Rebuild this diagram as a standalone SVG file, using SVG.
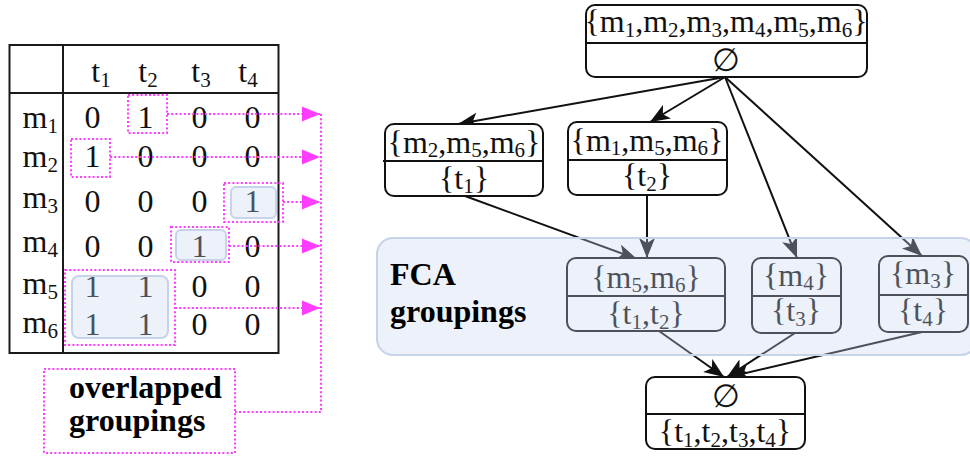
<svg xmlns="http://www.w3.org/2000/svg" width="970" height="457" viewBox="0 0 970 457">
  <defs>
    <style>
      .serif { font-family: "Liberation Serif", "Times New Roman", serif; font-size: 32px; fill: #111; }
      .lat { font-family: "Liberation Serif", "Times New Roman", serif; font-size: 32px; fill: #111; text-anchor: middle; }
      .mid { text-anchor: middle; }
      .end { text-anchor: end; }
      .s { font-size: 21px; }
      .bold { font-family: "Liberation Serif", "Times New Roman", serif; font-size: 32px; font-weight: bold; fill: #000; }
      .grid { fill: none; stroke: #1a1a1a; stroke-width: 2; }
      .box { fill: #fff; stroke: #111; stroke-width: 2; }
      .div { stroke: #111; stroke-width: 2; }
      .edge { fill: none; stroke: #111; stroke-width: 2; marker-end: url(#arrow); }
      .dot { fill: none; stroke: #ff3cff; stroke-width: 2; stroke-dasharray: 2 2.2; }
      .tint { fill: rgb(196, 212, 240); fill-opacity: 0.33; stroke: #c6d3e8; stroke-width: 2; }
    </style>
    <marker id="arrow" viewBox="0 -8 20 16" refX="20" refY="0" markerWidth="20" markerHeight="16" markerUnits="userSpaceOnUse" orient="auto">
      <path d="M20,0 L0,-8 L5,0 L0,8 Z" fill="#111"/>
    </marker>
    <marker id="pink" viewBox="0 -8 18 16" refX="18" refY="0" markerWidth="18" markerHeight="16" markerUnits="userSpaceOnUse" orient="auto">
      <path d="M18,0 L0,-7.5 L0,7.5 Z" fill="#ff3cff"/>
    </marker>
  </defs>

  <!-- ===== incidence table ===== -->
  <g id="table">
    <rect class="grid" x="9.5" y="45" width="269" height="308"/>
    <line class="grid" x1="63" y1="45" x2="63" y2="353"/>
    <line class="grid" x1="9.5" y1="93" x2="278.5" y2="93"/>

    <!-- column heads -->
    <text class="serif mid" x="101" y="82">t<tspan class="s" dy="5">1</tspan></text>
    <text class="serif mid" x="148" y="82">t<tspan class="s" dy="5">2</tspan></text>
    <text class="serif mid" x="201" y="82">t<tspan class="s" dy="5">3</tspan></text>
    <text class="serif mid" x="248" y="82">t<tspan class="s" dy="5">4</tspan></text>

    <!-- row heads -->
    <text class="serif end" x="58" y="128">m<tspan class="s" dy="5">1</tspan></text>
    <text class="serif end" x="58" y="167">m<tspan class="s" dy="5">2</tspan></text>
    <text class="serif end" x="58" y="208">m<tspan class="s" dy="5">3</tspan></text>
    <text class="serif end" x="58" y="252">m<tspan class="s" dy="5">4</tspan></text>
    <text class="serif end" x="58" y="294">m<tspan class="s" dy="5">5</tspan></text>
    <text class="serif end" x="58" y="333">m<tspan class="s" dy="5">6</tspan></text>

    <!-- cells -->
    <g class="serif mid">
      <text x="92.5" y="128">0</text><text x="145.5" y="128">1</text><text x="199.5" y="128">0</text><text x="252.5" y="128">0</text>
      <text x="92.5" y="167">1</text><text x="145.5" y="167">0</text><text x="199.5" y="167">0</text><text x="252.5" y="167">0</text>
      <text x="92.5" y="212">0</text><text x="145.5" y="212">0</text><text x="199.5" y="212">0</text><text x="252.5" y="212">1</text>
      <text x="92.5" y="257">0</text><text x="145.5" y="257">0</text><text x="199.5" y="257">1</text><text x="252.5" y="257">0</text>
      <text x="92.5" y="297">1</text><text x="145.5" y="297">1</text><text x="199.5" y="297">0</text><text x="252.5" y="297">0</text>
      <text x="92.5" y="335">1</text><text x="145.5" y="335">1</text><text x="199.5" y="335">0</text><text x="252.5" y="335">0</text>
    </g>

    <!-- shaded concept blocks -->
    <rect class="tint" x="231" y="187" width="45" height="31" rx="5"/>
    <rect class="tint" x="176" y="230" width="50" height="30" rx="5"/>
    <rect class="tint" x="72" y="276" width="96" height="62" rx="7"/>
  </g>

  <!-- ===== overlapped groupings (dotted) ===== -->
  <g id="overlap">
    <rect class="dot" x="128" y="95" width="39" height="38"/>
    <rect class="dot" x="71" y="139" width="39" height="38"/>
    <rect class="dot" x="224" y="183" width="59" height="39"/>
    <rect class="dot" x="171" y="227" width="58" height="35"/>
    <rect class="dot" x="65" y="270" width="110" height="75"/>

    <line class="dot" x1="167" y1="114" x2="320" y2="114" marker-end="url(#pink)"/>
    <line class="dot" x1="110" y1="157" x2="320" y2="157" marker-end="url(#pink)"/>
    <line class="dot" x1="283" y1="202" x2="320" y2="202" marker-end="url(#pink)"/>
    <line class="dot" x1="229" y1="246" x2="320" y2="246" marker-end="url(#pink)"/>
    <line class="dot" x1="175" y1="308" x2="320" y2="308" marker-end="url(#pink)"/>
    <polyline class="dot" points="321,114 321,412 235,412"/>

    <rect class="dot" x="44" y="369" width="191" height="84"/>
    <text class="bold" x="69" y="398">overlapped</text>
    <text class="bold" x="69" y="431">groupings</text>
  </g>

  <!-- ===== connectors ===== -->
  <g id="edges">
    <line class="edge" x1="725" y1="77" x2="458" y2="124"/>
    <line class="edge" x1="725" y1="77" x2="650" y2="122"/>
    <line class="edge" x1="725" y1="77" x2="797" y2="258"/>
    <line class="edge" x1="725" y1="77" x2="922" y2="256"/>
    <line class="edge" x1="465" y1="196" x2="637" y2="259"/>
    <line class="edge" x1="647" y1="195" x2="647" y2="258"/>
    <line class="edge" x1="659" y1="331" x2="724" y2="377"/>
    <line class="edge" x1="795" y1="333" x2="727" y2="377"/>
    <line class="edge" x1="922" y1="332" x2="729" y2="377"/>
  </g>

  <!-- ===== lattice nodes ===== -->
  <g id="top">
    <rect class="box" x="586" y="5" width="281" height="72" rx="9"/>
    <line class="div" x1="586" y1="43" x2="867" y2="43"/>
    <text class="lat" x="726" y="32">{m<tspan class="s" dy="5">1</tspan><tspan dy="-5">,m</tspan><tspan class="s" dy="5">2</tspan><tspan dy="-5">,m</tspan><tspan class="s" dy="5">3</tspan><tspan dy="-5">,m</tspan><tspan class="s" dy="5">4</tspan><tspan dy="-5">,m</tspan><tspan class="s" dy="5">5</tspan><tspan dy="-5">,m</tspan><tspan class="s" dy="5">6</tspan><tspan dy="-5">}</tspan></text>
    <text class="lat" x="726" y="71">∅</text>
  </g>

  <g id="c-t1">
    <rect class="box" x="385" y="124" width="158" height="72" rx="9"/>
    <line class="div" x1="383" y1="161" x2="543" y2="161"/>
    <text class="lat" x="464" y="153">{m<tspan class="s" dy="4">2</tspan><tspan dy="-4">,m</tspan><tspan class="s" dy="4">5</tspan><tspan dy="-4">,m</tspan><tspan class="s" dy="4">6</tspan><tspan dy="-4">}</tspan></text>
    <text class="lat" x="464" y="189">{t<tspan class="s" dy="4">1</tspan><tspan dy="-4">}</tspan></text>
  </g>

  <g id="c-t2">
    <rect class="box" x="568" y="122" width="159" height="73" rx="9"/>
    <line class="div" x1="568" y1="160" x2="727" y2="160"/>
    <text class="lat" x="647" y="151">{m<tspan class="s" dy="4">1</tspan><tspan dy="-4">,m</tspan><tspan class="s" dy="4">5</tspan><tspan dy="-4">,m</tspan><tspan class="s" dy="4">6</tspan><tspan dy="-4">}</tspan></text>
    <text class="lat" x="647" y="186">{t<tspan class="s" dy="5">2</tspan><tspan dy="-5">}</tspan></text>
  </g>

  <g id="c-t1t2">
    <rect class="box" x="567" y="258" width="158" height="73" rx="9"/>
    <line class="div" x1="567" y1="296" x2="725" y2="296"/>
    <text class="lat" x="646" y="288">{m<tspan class="s" dy="4">5</tspan><tspan dy="-4">,m</tspan><tspan class="s" dy="4">6</tspan><tspan dy="-4">}</tspan></text>
    <text class="lat" x="646" y="324">{t<tspan class="s" dy="5">1</tspan><tspan dy="-5">,t</tspan><tspan class="s" dy="5">2</tspan><tspan dy="-5">}</tspan></text>
  </g>

  <g id="c-t3">
    <rect class="box" x="752" y="258" width="89" height="75" rx="9"/>
    <line class="div" x1="752" y1="296" x2="841" y2="296"/>
    <text class="lat" x="796" y="286">{m<tspan class="s" dy="4">4</tspan><tspan dy="-4">}</tspan></text>
    <text class="lat" x="796" y="321">{t<tspan class="s" dy="5">3</tspan><tspan dy="-5">}</tspan></text>
  </g>

  <g id="c-t4">
    <rect class="box" x="879" y="256" width="89" height="76" rx="9"/>
    <line class="div" x1="879" y1="295" x2="968" y2="295"/>
    <text class="lat" x="923" y="284">{m<tspan class="s" dy="4">3</tspan><tspan dy="-4">}</tspan></text>
    <text class="lat" x="923" y="321">{t<tspan class="s" dy="5">4</tspan><tspan dy="-5">}</tspan></text>
  </g>

  <g id="bottom">
    <rect class="box" x="646" y="377" width="159" height="72" rx="9"/>
    <line class="div" x1="646" y1="414" x2="805" y2="414"/>
    <text class="lat" x="726" y="407">∅</text>
    <text class="lat" x="725" y="442">{t<tspan class="s" dy="5">1</tspan><tspan dy="-5">,t</tspan><tspan class="s" dy="5">2</tspan><tspan dy="-5">,t</tspan><tspan class="s" dy="5">3</tspan><tspan dy="-5">,t</tspan><tspan class="s" dy="5">4</tspan><tspan dy="-5">}</tspan></text>
  </g>

  <!-- ===== FCA groupings band, laid over the middle row ===== -->
  <g id="fca">
    <rect class="tint" x="377" y="238" width="600" height="117" rx="16"/>
    <text class="bold" x="390" y="285">FCA</text>
    <text class="bold" x="390" y="322">groupings</text>
  </g>
</svg>
